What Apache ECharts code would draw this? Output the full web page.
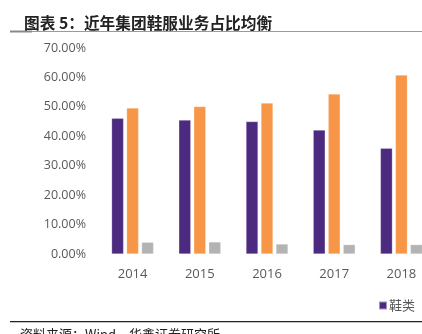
<!DOCTYPE html>
<html>
<head>
<meta charset="utf-8">
<script src="https://cdn.jsdelivr.net/npm/echarts@6/dist/echarts.min.js"></script>
<style>html,body{margin:0;padding:0;background:#fff;}#c{width:422px;height:334px;}</style>
</head>
<body>
<div id="c"></div>
<script>
var categories = ['2014', '2015', '2016', '2017', '2018'];
var seriesNames = ['鞋类', '服装', '配件'];
var shoes = [0.461, 0.455, 0.450, 0.421, 0.359];
var apparel = [0.496, 0.501, 0.513, 0.544, 0.608];
var accessories = [0.040, 0.041, 0.034, 0.032, 0.032];
var yTicks = [0, 0.1, 0.2, 0.3, 0.4, 0.5, 0.6, 0.7];

var chart = echarts.init(document.getElementById('c'));
var colors = ['#4B2A7F', '#F79646', '#B3B3B3'];
var values = [shoes, apparel, accessories];
chart.setOption({
  animation: false,
  title: {
    text: '图表 5：近年集团鞋服业务占比均衡',
    left: 19, top: 10,
    textStyle: { fontSize: 15.7, fontWeight: 'bold', color: '#222', fontFamily: 'Noto Sans CJK SC' }
  },
  graphic: [
    { type: 'rect', shape: { x: 10, y: 31, width: 412, height: 1 }, style: { fill: '#9a9a9a' } },
    { type: 'rect', shape: { x: 10, y: 30.5, width: 22, height: 2 }, style: { fill: '#888' } },
    { type: 'rect', shape: { x: 10, y: 321, width: 412, height: 1.2 }, style: { fill: '#222' } },
    { type: 'text', left: 20, top: 328, style: { text: '资料来源：Wind，华鑫证券研究所', fontSize: 13, fill: '#222', fontFamily: 'Noto Sans CJK SC' } }
  ],
  legend: {
    data: ['鞋类'],
    left: 373, top: 294,
    itemWidth: 8, itemHeight: 8, itemGap: 14,
    icon: 'rect',
    textStyle: { fontSize: 13, color: '#595959', fontFamily: 'Noto Sans CJK SC', padding: [0, 0, 0, -3] }
  },
  grid: { left: 99, top: 48, width: 336, height: 206, outerBoundsMode: 'none', containLabel: false },
  xAxis: {
    type: 'category', data: categories,
    axisLine: { show: false }, axisTick: { show: false },
    axisLabel: { fontSize: 13, color: '#595959', margin: 14, fontFamily: 'Open Sans' }
  },
  yAxis: {
    type: 'value', min: 0, max: 0.7, interval: 0.1,
    splitLine: { show: false }, axisLine: { show: false }, axisTick: { show: false },
    axisLabel: {
      fontSize: 12.5, color: '#595959', margin: 13, fontFamily: 'Open Sans',
      formatter: function (v) { return (v * 100).toFixed(2) + '%'; }
    }
  },
  series: seriesNames.map(function (n, i) {
    return {
      name: n, type: 'bar', data: values[i], barWidth: 12, barGap: '25%',
      itemStyle: { color: colors[i], borderColor: 'rgba(255,255,255,0.5)', borderWidth: 0.5 }
    };
  })
});
</script>
</body>
</html>
